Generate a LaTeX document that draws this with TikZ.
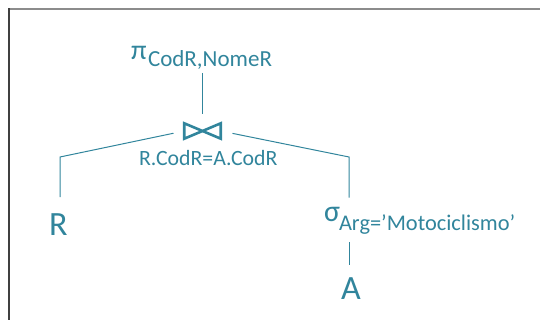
\documentclass[tikz,border=0pt]{standalone}
\usepackage{fontspec}
\setmainfont{Carlito}
\definecolor{teal}{HTML}{31859C}
\begin{document}
\begin{tikzpicture}[x=1pt,y=1pt,
  txt/.style={inner sep=0pt, outer sep=0pt, text=teal, anchor=base west},
  conn/.style={draw=teal, line width=1pt},
  bow/.style={draw=teal, line width=2.6pt, line join=miter}]
\useasboundingbox (0,0) rectangle (540,320);
% frame
\draw[draw=gray!90, line width=1.5pt] (9,311) -- (540,311);
\draw[draw=black!75, line width=1.5pt] (9,311.7) -- (9,0);
% projection
\node[txt] (pi) at (131,260) {\fontsize{28}{28}\selectfont π};
\node[txt] (projsub) at (148,253) {\fontsize{23}{23}\selectfont CodR,NomeR};
% join
\node[minimum width=36.5pt, minimum height=15.4pt, inner sep=0pt, outer sep=0pt] (join) at (202.5,189) {};
\draw[bow] (join.north west) -- (join.south east) -- (join.north east) -- (join.south west) -- cycle;
\node[txt] (joinlab) at (139,154) {\fontsize{21.8}{21.8}\selectfont R.CodR=A.CodR};
% leaves
\node[txt] (R) at (49,84) {\fontsize{34}{34}\selectfont R};
\node[txt] (sigma) at (324,98) {\fontsize{30}{30}\selectfont σ};
\node[txt] (selsub) at (339,89) {\fontsize{22.4}{22.4}\selectfont Arg=’Motociclismo’};
\node[txt] (A) at (341,20) {\fontsize{34}{34}\selectfont A};
\coordinate (elbowL) at (60,163);
\coordinate (elbowR) at (349,163);
% connectors
\draw[conn, shorten <=3pt, shorten >=9.5pt] (join.north |- projsub.south) -- (join.north);
\draw[conn, shorten <=11pt, shorten >=17pt] (join.west) -- (elbowL) -- (elbowL |- R.north);
\draw[conn, shorten <=12pt, shorten >=10pt] (join.east) -- (elbowR) -- (elbowR |- sigma.north);
\draw[conn, shorten <=7.5pt, shorten >=13pt] (elbowR |- selsub.south) -- (elbowR |- A.north);
\end{tikzpicture}
\end{document}
